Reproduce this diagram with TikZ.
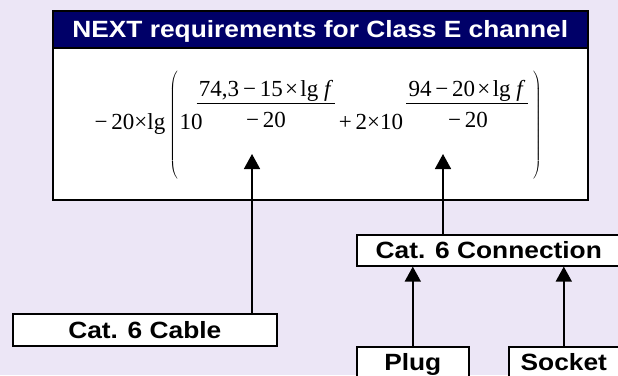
\documentclass[tikz,border=0pt]{standalone}
\usepackage{fontspec}
\setmainfont{Liberation Serif}
\newfontfamily\boxfont{Liberation Sans}[FakeStretch=1.12]
\usetikzlibrary{arrows.meta}
\definecolor{lavender}{RGB}{236,230,246}
\definecolor{navy}{RGB}{0,0,104}

\begin{document}
\begin{tikzpicture}[x=1pt, y=-1pt,
    box/.style={draw, line width=1.6pt, fill=white, anchor=north west, inner sep=0pt,
      font=\boxfont\bfseries\fontsize{23.5}{23.5}\selectfont, text height=16.8pt, text depth=0pt},
    term/.style={anchor=base, inner sep=0pt, font=\fontsize{23}{23}\selectfont},
    num/.style={term, inner sep=2pt},
    paren/.style={inner sep=0pt},
    up/.style={line width=1.6pt, -{Triangle[width=16pt, length=15pt]}}]
    \fill[lavender] (0, 0) rectangle (618, 375);
    \clip (0, 0) rectangle (618, 375);
    \node[box, minimum width=535pt, minimum height=189pt] (p) at (52, 10) {};
    \node[box, fill=navy, text=white, minimum width=535pt, minimum height=37pt] (t) at (52, 10)
      {NEXT requirements for Class E channel};
    \node[term] (a) at (130, 129) {−\,20×lg};
    \node[paren] (lp) at (174, 125) {$\left(\vrule height 52pt depth 52pt width 0pt\right.$};
    \node[term] (b) at (191, 129) {10};
    \node[num] (n1) at (266, 96) {74,3\,−\,15\hspace{0.1em}×\hspace{0.1em}lg\ \textit{f}};
    \node[term] (d1) at (266, 127) {−\,20};
    \node[term] (c) at (371, 129) {+\,2×10};
    \node[num] (n2) at (467, 96) {94\,−\,20\hspace{0.1em}×\hspace{0.1em}lg\ \textit{f}};
    \node[term] (d2) at (468, 127) {−\,20};
    \node[paren] (rp) at (537, 125) {$\left.\vrule height 52pt depth 52pt width 0pt\right)$};
    \draw [line width=1pt] (n1.south west) to (n1.south east);
    \draw [line width=1pt] (n2.south west) to (n2.south east);
    \node[box, minimum width=264pt, minimum height=32pt] (cb) at (12, 313) {Cat. 6 Cable};
    \node[box, minimum width=264pt, minimum height=31pt] (cn) at (356, 234) {Cat. 6 Connection};
    \node[box, minimum width=112pt, minimum height=31pt] (pl) at (356, 346) {Plug};
    \node[box, minimum width=110pt, minimum height=31pt] (so) at (508, 346) {Socket};
    \coordinate (u) at (252, 154);
    \coordinate (v) at (443, 154);
    \draw [up] (cb.north -| u) to (u);
    \draw [up] (cn.north -| v) to (v);
    \draw [up] (pl.north) to (pl.north |- cn.south);
    \draw [up] (so.north) to (so.north |- cn.south);
\end{tikzpicture}
\end{document}
